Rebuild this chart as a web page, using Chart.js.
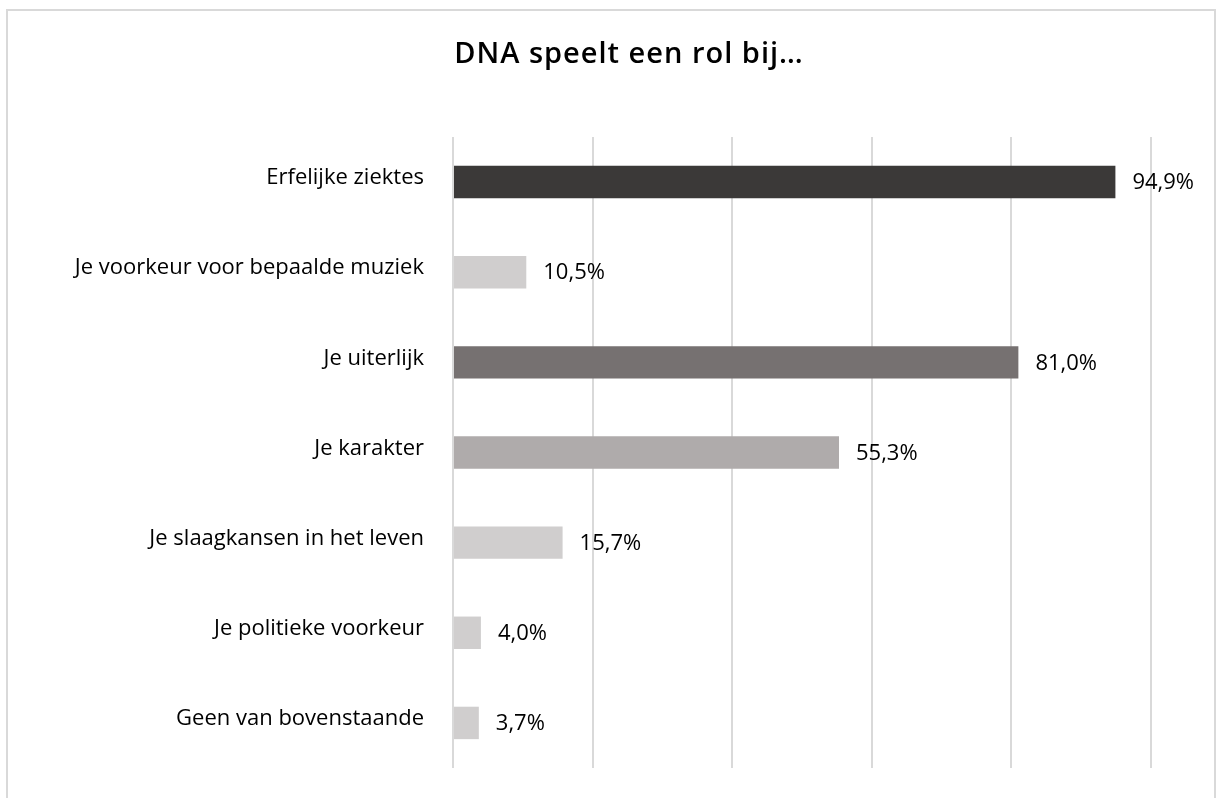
<!DOCTYPE html>
<html>
<head>
<meta charset="utf-8">
<script src="https://cdn.jsdelivr.net/npm/chart.js@4/dist/chart.umd.min.js"></script>
<style>
  html, body { margin: 0; padding: 0; background: #fff; overflow: hidden; }
  #box { position: absolute; left: 6px; top: 9px; width: 1210px; height: 800px; border: 2px solid #d9d9d9; box-sizing: border-box; }
  #wrap { position: absolute; left: 0; top: 0; width: 1206px; height: 787px; }
</style>
</head>
<body>
<div id="box"><div id="wrap"><canvas id="c"></canvas></div></div>
<script>
const categories = [
  "Erfelijke ziektes",
  "Je voorkeur voor bepaalde muziek",
  "Je uiterlijk",
  "Je karakter",
  "Je slaagkansen in het leven",
  "Je politieke voorkeur",
  "Geen van bovenstaande"
];
const values = [94.9, 10.5, 81.0, 55.3, 15.7, 4.0, 3.7];
const barColors = ["#3b3938", "#d0cece", "#767171", "#afabab", "#d0cece", "#d0cece", "#d0cece"];
const titleText = "DNA speelt een rol bij…";

const FONT = "'Open Sans', 'Noto Sans', sans-serif";

const valueLabels = {
  id: 'valueLabels',
  afterDatasetsDraw(chart) {
    const ctx = chart.ctx;
    const meta = chart.getDatasetMeta(0);
    ctx.save();
    ctx.font = "22px " + FONT;
    ctx.fillStyle = "#000";
    ctx.textAlign = "left";
    ctx.textBaseline = "middle";
    meta.data.forEach((bar, i) => {
      const v = values[i].toFixed(1).replace('.', ',') + '%';
      ctx.fillText(v, bar.x + 17, bar.y + 1);
    });
    ctx.restore();
  }
};

const titlePlugin = {
  id: 'titlePlugin',
  afterDraw(chart) {
    const ctx = chart.ctx;
    ctx.save();
    ctx.font = "600 29px " + FONT;
    try { ctx.letterSpacing = "1px"; } catch (e) {}
    ctx.fillStyle = "#000";
    ctx.textAlign = "center";
    ctx.textBaseline = "middle";
    ctx.fillText(titleText, 621, 44);
    ctx.restore();
  }
};

new Chart(document.getElementById('c'), {
  type: 'bar',
  data: {
    labels: categories,
    datasets: [{
      data: values,
      backgroundColor: barColors,
      borderWidth: 0,
      barPercentage: 0.72,
      categoryPercentage: 0.5
    }]
  },
  options: {
    indexAxis: 'y',
    responsive: true,
    maintainAspectRatio: false,
    animation: false,
    layout: { padding: { left: 0, right: 63, top: 126, bottom: 30 } },
    plugins: {
      legend: { display: false },
      tooltip: { enabled: false },
      title: { display: false }
    },
    scales: {
      x: {
        min: 0, max: 100,
        ticks: { display: false, stepSize: 20 },
        grid: { color: "#d9d9d9", lineWidth: 2, drawTicks: false },
        border: { display: false }
      },
      y: {
        ticks: { color: "#000", font: { family: FONT, size: 22 }, padding: 29, labelOffset: -4 },
        grid: { display: false, drawTicks: false },
        border: { display: false },
        afterFit(scale) { scale.width = 445; scale.paddingTop = 0; scale.paddingBottom = 0; }
      }
    }
  },
  plugins: [valueLabels, titlePlugin]
});
</script>
</body>
</html>
